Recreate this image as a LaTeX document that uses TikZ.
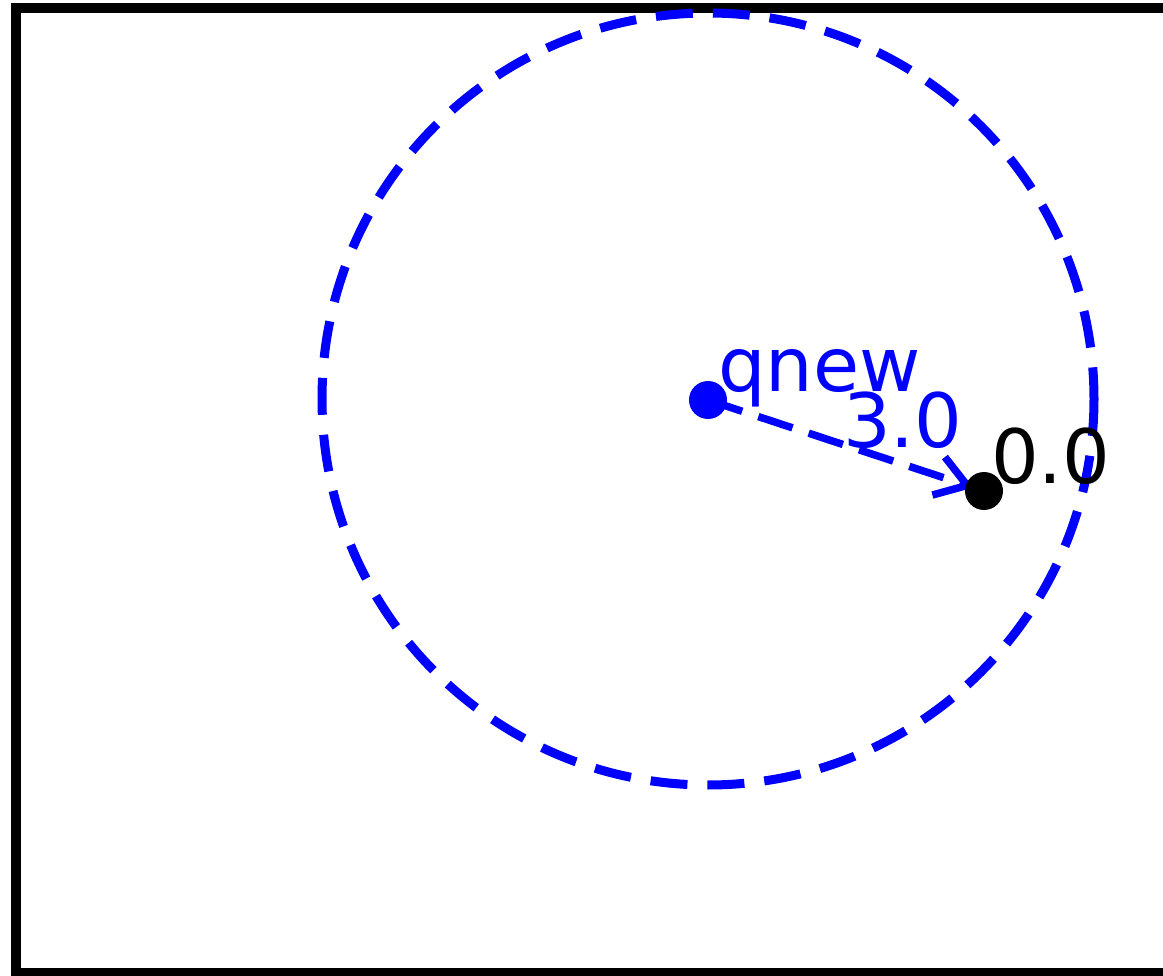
\documentclass[tikz,border=0pt]{standalone}
\usepackage{fontspec}
\setmainfont{DejaVu Sans}
\usetikzlibrary{arrows.meta}
\pgfdeclarelayer{bg}
\pgfsetlayers{bg,main}
\tikzset{
  dot/.style={circle,fill=#1,inner sep=0pt,minimum size=38pt},
  lbl/.style={anchor=base west,inner sep=0pt,font=\fontsize{75}{86}\selectfont},
  ring/.style={draw=blue,line width=9pt,dash pattern=on 37pt off 20pt},
  vec/.style={draw=blue,line width=7.5pt,dash pattern=on 36pt off 17pt,
    -{Straight Barb[length=30pt,width=40pt]}},
  frame/.style={draw=black,line width=10pt}
}
\begin{document}
\begin{tikzpicture}[x=1pt,y=-1pt]
\useasboundingbox (0,0) rectangle (1163,976);
\draw[frame] (16,8) rectangle (1175,973);
\draw[ring] (708,399) circle[radius=386];
\node[dot=blue] (qn) at (708,400) {};
\node[dot=black] (p0) at (984,491) {};
\begin{pgfonlayer}{bg}
\draw[vec,shorten >=11pt] (qn.center) -- (p0.center);
\end{pgfonlayer}
\node[lbl,text=blue] (tq) at (718,392) {qnew};
\node[lbl,text=blue] (t3) at (843,447) {3.0};
\node[lbl,text=black] (t0) at (991,483) {0.0};
\end{tikzpicture}
\end{document}
